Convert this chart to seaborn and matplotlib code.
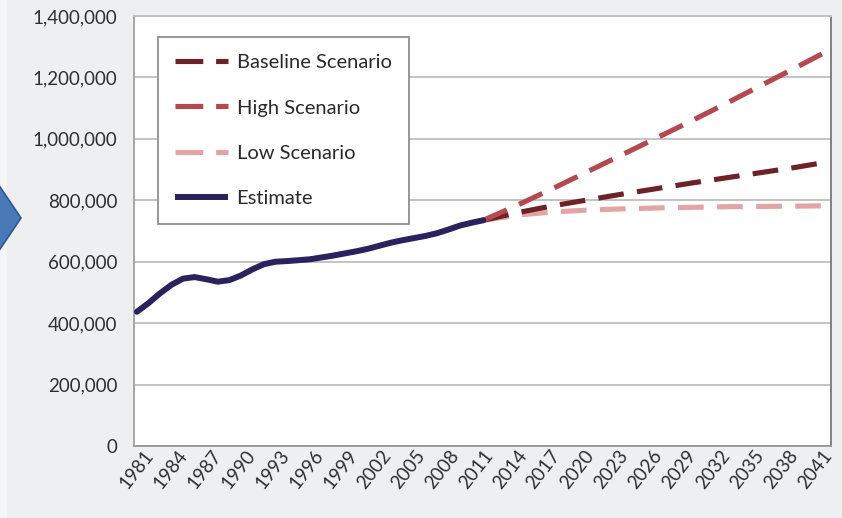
import matplotlib
matplotlib.use("Agg")
import matplotlib.pyplot as plt
from matplotlib.patches import Polygon, Rectangle
from matplotlib.lines import Line2D
from matplotlib.ticker import FuncFormatter
from matplotlib.transforms import ScaledTranslation
import seaborn as sns
import pandas as pd

# ---- data ----
est_years = list(range(1981, 2012))
est_values = [437000, 465000, 497000, 525000, 545000, 550000, 543000, 535000, 540000, 555000,
              575000, 592000, 600000, 602000, 605000, 608000, 614000, 620000, 627000, 634000,
              642000, 652000, 662000, 670000, 677000, 684000, 693000, 705000, 718000, 727000,
              735000]

proj_years = [2011, 2014, 2017, 2020, 2023, 2026, 2029, 2032, 2035, 2038, 2041]
baseline_values = [735000, 760000, 782000, 801000, 820000, 838000, 856000, 873000, 890000, 907000, 926000]
high_values = [735000, 785000, 838000, 893000, 948000, 1003000, 1058000, 1115000, 1173000, 1231000, 1290000]
low_values = [735000, 752000, 762000, 768000, 772000, 775000, 777000, 779000, 780000, 781000, 782000]

tick_years = list(range(1981, 2042, 3))
y_ticks = [0, 200000, 400000, 600000, 800000, 1000000, 1200000, 1400000]

series_names = ["Baseline Scenario", "High Scenario", "Low Scenario", "Estimate"]
colors = {"Baseline Scenario": "#6c2226", "High Scenario": "#b4494f",
          "Low Scenario": "#e3a4a5", "Estimate": "#29225f"}

# ---- style ----
sns.set_theme(style="white")
plt.rcParams["font.family"] = ["Lato", "DejaVu Sans"]

W, H = 842, 518
fig = plt.figure(figsize=(W / 100, H / 100), dpi=100, facecolor="#edeff0")
ax = fig.add_axes([134 / W, 1 - 446 / H, (831 - 134) / W, 430 / H])
ax.set_facecolor("white")

# left lighter strip and chevron arrow
fig.patches.append(Rectangle((0, 0), 7 / W, 1, transform=fig.transFigure,
                             facecolor="#f6f6f6", edgecolor="none", zorder=0))
pts = [(-12, 169), (21, 218), (-12, 267)]
fig.patches.append(Polygon([(x / W, 1 - y / H) for x, y in pts], closed=True,
                           transform=fig.transFigure, facecolor="#4a79b8",
                           edgecolor="#2e5a90", linewidth=1.2, zorder=1))

lw = 3.7
dash = (0, (5.0, 2.6))

df_est = pd.DataFrame({"year": est_years, "value": est_values})
df_base = pd.DataFrame({"year": proj_years, "value": baseline_values})
df_high = pd.DataFrame({"year": proj_years, "value": high_values})
df_low = pd.DataFrame({"year": proj_years, "value": low_values})

sns.lineplot(data=df_low, x="year", y="value", ax=ax, color=colors["Low Scenario"],
             linewidth=lw, linestyle=dash, dash_capstyle="butt", legend=False, zorder=3)
sns.lineplot(data=df_base, x="year", y="value", ax=ax, color=colors["Baseline Scenario"],
             linewidth=lw, linestyle=dash, dash_capstyle="butt", legend=False, zorder=4)
sns.lineplot(data=df_high, x="year", y="value", ax=ax, color=colors["High Scenario"],
             linewidth=lw, linestyle=dash, dash_capstyle="butt", legend=False, zorder=5)
sns.lineplot(data=df_est, x="year", y="value", ax=ax, color=colors["Estimate"],
             linewidth=4.3, solid_capstyle="round", solid_joinstyle="round",
             legend=False, zorder=6)

ax.set_xlim(1980.75, 2041.1)
ax.set_ylim(0, 1400000)
ax.set_xticks(tick_years)
ax.set_xticklabels([str(y) for y in tick_years], rotation=52, ha="center")
ax.set_yticks(y_ticks)
ax.yaxis.set_major_formatter(FuncFormatter(lambda v, p: f"{v:,.0f}"))
ax.set_xlabel("")
ax.set_ylabel("")

ax.grid(axis="y", color="#c3c3c3", linewidth=1.4)
ax.grid(axis="x", visible=False)
ax.set_axisbelow(True)
ax.tick_params(axis="both", length=0, labelsize=13.5, labelcolor="#303030")
ax.tick_params(axis="y", pad=12)
ax.tick_params(axis="x", pad=1)

# labels drift slightly left of their ticks, as in the reference
for i, lab in enumerate(ax.get_xticklabels()):
    lab.set_transform(lab.get_transform() +
                      ScaledTranslation(-0.75 * i / 100, 0, fig.dpi_scale_trans))

for s, c in [("left", "#a8a8a8"), ("bottom", "#9a9a9a"), ("right", "#808080"), ("top", "#c3c3c3")]:
    ax.spines[s].set_visible(True)
    ax.spines[s].set_color(c)
    ax.spines[s].set_linewidth(1.4)

handles = []
for name in series_names:
    if name == "Estimate":
        handles.append(Line2D([], [], color=colors[name], linewidth=4.3, solid_capstyle="butt"))
    else:
        handles.append(Line2D([], [], color=colors[name], linewidth=lw,
                              linestyle=(0, (5.4, 2.5)), dash_capstyle="butt"))

leg = fig.legend(handles, series_names, loc="upper left",
                 bbox_to_anchor=(158 / W, 1 - 37 / H), bbox_transform=fig.transFigure,
                 fontsize=14.5, frameon=True, fancybox=False, framealpha=1,
                 edgecolor="#8f8f8f", facecolor="white", handlelength=2.65,
                 handletextpad=0.4, labelspacing=1.4, borderpad=0.85,
                 borderaxespad=0)
leg.get_frame().set_linewidth(1.3)
for t in leg.get_texts():
    t.set_color("#2a2a2a")

fig.savefig("out.png", dpi=100, facecolor=fig.get_facecolor())
